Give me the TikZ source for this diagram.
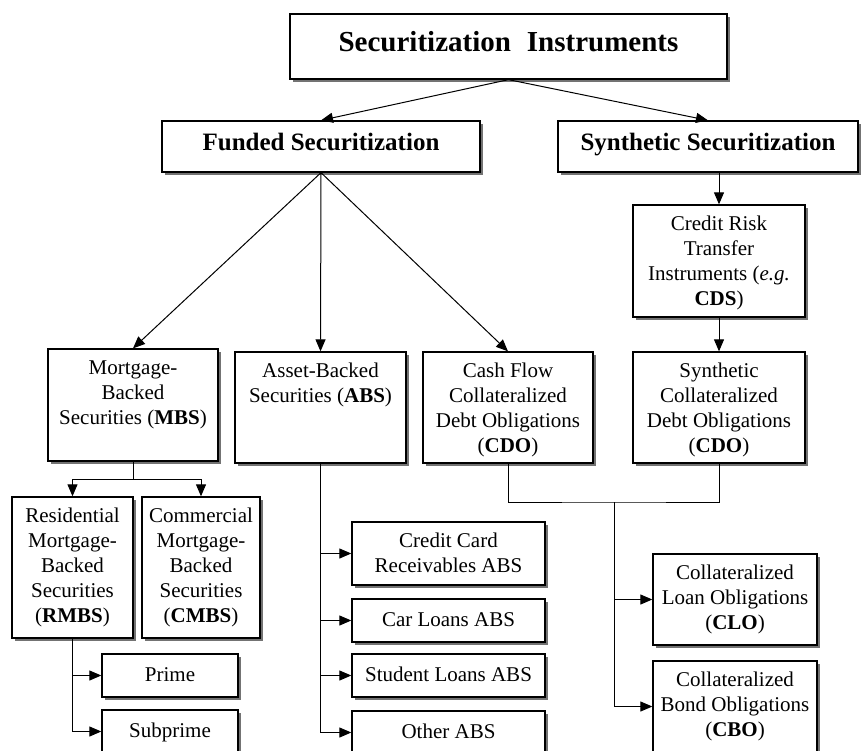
\documentclass[tikz,border=0pt]{standalone}
\usepackage{fontspec}
\setmainfont{Liberation Serif}
\usetikzlibrary{arrows.meta,shadows}
\tikzset{
 box/.style={draw=black, line width=1.3pt, fill=white, inner sep=0pt,
   drop shadow={shadow xshift=3pt, shadow yshift=-3pt, fill=black!55, opacity=1}},
 txt/.style={font=\fontsize{21}{25}\selectfont, align=center, inner sep=0pt, anchor=north},
 big/.style={font=\fontsize{29}{34}\selectfont\bfseries},
 mid/.style={font=\fontsize{25}{30}\selectfont\bfseries},
 arr/.style={line width=1pt, -{Triangle[length=12pt,width=10pt]}},
 ln/.style={line width=1pt},
}
\newcommand\bx[8][]{%
 \node[box,minimum width={(#5-#3)*1pt},minimum height={(#6-#4)*1pt}] (#2) at ({(#3+#5)/2},{(#4+#6)/2}) {};
 \node[txt,#1] (#2-t) at ([yshift={(24-#7)*1pt}]#2.north) {\rule{0pt}{24pt}#8};}
\begin{document}
\begin{tikzpicture}[x=1pt,y=-1pt]
\useasboundingbox (0,0) rectangle (868,751);
\clip (0,0) rectangle (868,751);
\bx[big]{top}{290}{14}{727}{79}{38}{Securitization\hspace{0.3em} Instruments}
\bx[mid]{funded}{162}{121}{480}{172}{30}{Funded Securitization}
\bx[mid]{synth}{558}{121}{858}{172}{30}{Synthetic Securitization}
\bx{credit}{633}{205}{805}{317}{26}{Credit Risk\\Transfer\\Instruments (\textit{e.g.}\\\textbf{CDS})}
\bx{mbs}{48}{349}{218}{461}{26}{Mortgage-\\Backed\\Securities (\textbf{MBS})}
\bx{abs}{235}{352}{406}{463}{26}{Asset-Backed\\Securities (\textbf{ABS})}
\bx{cfcdo}{423}{352}{593}{463}{26}{Cash Flow\\Collateralized\\Debt Obligations\\(\textbf{CDO})}
\bx{scdo}{633}{352}{805}{463}{26}{Synthetic\\Collateralized\\Debt Obligations\\(\textbf{CDO})}
\bx{rmbs}{12}{497}{133}{638}{26}{Residential\\Mortgage-\\Backed\\Securities\\(\textbf{RMBS})}
\bx{cmbs}{142}{497}{260}{638}{26}{Commercial\\Mortgage-\\Backed\\Securities\\(\textbf{CMBS})}
\bx{prime}{102}{654}{238}{697}{28}{Prime}
\bx{subprime}{102}{710}{238}{753}{28}{Subprime}
\bx{ccard}{352}{522}{545}{585}{26}{Credit Card\\Receivables ABS}
\bx{car}{352}{599}{545}{642}{28}{Car Loans ABS}
\bx{student}{352}{654}{545}{697}{28}{Student Loans ABS}
\bx{other}{352}{711}{545}{754}{28}{Other ABS}
\bx{clo}{653}{554}{817}{645}{26}{Collateralized\\Loan Obligations\\(\textbf{CLO})}
\bx{cbo}{653}{661}{817}{752}{26}{Collateralized\\Bond Obligations\\(\textbf{CBO})}
% connectors
\draw[arr] (top.south) -- (funded.north);
\draw[arr] (top.south) -- (synth.north);
\draw[arr] (synth.south -| credit.north) -- (credit.north);
\draw[arr] (credit.south) -- (scdo.north);
\draw[arr] (funded.south) -- (mbs.north);
\draw[arr] (funded.south) -- (abs.north);
\draw[arr] (funded.south) -- (cfcdo.north);
\coordinate (mj) at ([yshift=-18pt]mbs.south);
\draw[ln] (mbs.south) -- (mj);
\draw[arr] (mj) -| (rmbs.north);
\draw[arr] (mj) -| (cmbs.north);
\draw[arr] (rmbs.south) |- (prime.west);
\draw[arr] (rmbs.south) |- (subprime.west);
\draw[arr] (abs.south) |- (ccard.west);
\draw[arr] (abs.south) |- (car.west);
\draw[arr] (abs.south) |- (student.west);
\draw[arr] (abs.south) |- (other.west);
\coordinate (cj) at (614,502);
\draw[ln] (cfcdo.south) |- (cj) -| (scdo.south);
\draw[arr] (cj) |- (clo.west);
\draw[arr] (cj) |- (cbo.west);
\end{tikzpicture}
\end{document}
